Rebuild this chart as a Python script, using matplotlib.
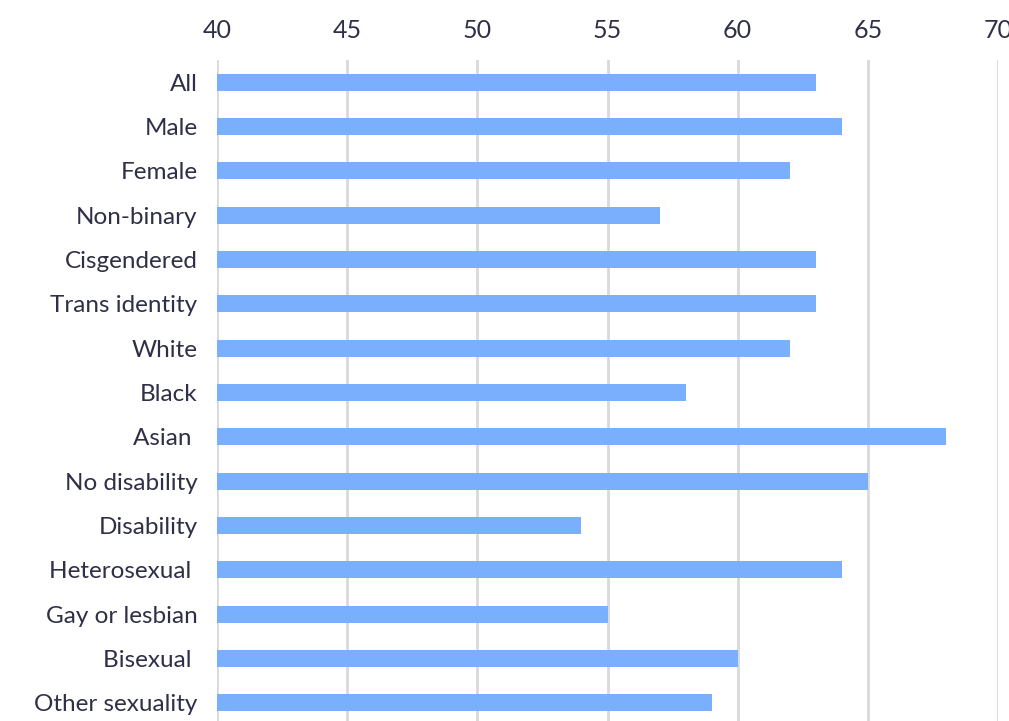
import matplotlib
matplotlib.use("Agg")
import matplotlib.pyplot as plt

categories = ["All", "Male", "Female", "Non-binary", "Cisgendered", "Trans identity",
              "White", "Black", "Asian ", "No disability", "Disability", "Heterosexual ",
              "Gay or lesbian", "Bisexual ", "Other sexuality"]
values = [63, 64, 62, 57, 63, 63, 62, 58, 68, 65, 54, 64, 55, 60, 59]
xticks = [40, 45, 50, 55, 60, 65, 70]

plt.rcParams['font.family'] = ['Lato', 'DejaVu Sans']
text_color = "#2f2f47"

fig = plt.figure(figsize=(10.09, 7.21), dpi=100)
W, H = 1009, 721
left, right, top, bottom = 217, 998, 60, 725
ax = fig.add_axes([left / W, 1 - bottom / H, (right - left) / W, (bottom - top) / H])

y = list(range(len(categories)))
ax.barh(y, [v - 40 for v in values], left=40, height=0.39, color="#7aaffe", zorder=3)
ax.set_ylim(len(categories) - 0.5, -0.5)
ax.set_xlim(40, 70)
ax.set_xticks(xticks)
ax.set_xticklabels([str(t) for t in xticks])
ax.xaxis.tick_top()
ax.tick_params(axis='x', length=0, pad=13, labelsize=18, labelcolor=text_color)
ax.set_yticks(y)
ax.set_yticklabels(categories)
ax.tick_params(axis='y', length=0, pad=14, labelsize=17.5, labelcolor=text_color)
ax.grid(axis='x', color="#d9d9d9", linewidth=2, zorder=0)
for s in ax.spines.values():
    s.set_visible(False)

fig.savefig("out.png", dpi=100)
